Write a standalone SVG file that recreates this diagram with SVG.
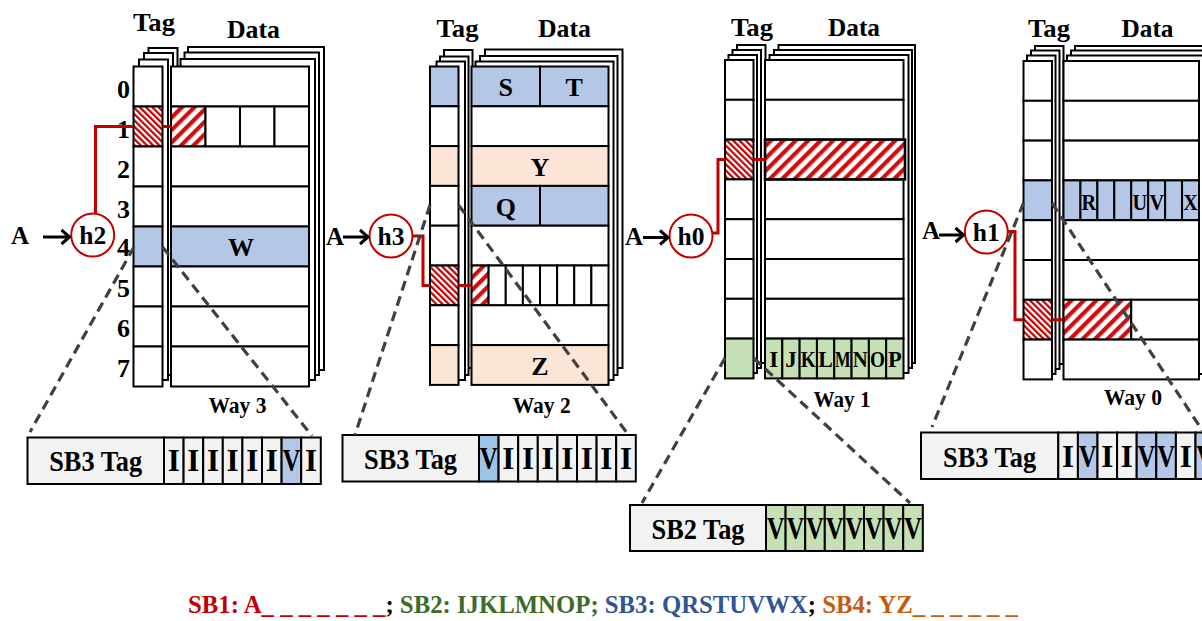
<svg xmlns="http://www.w3.org/2000/svg" width="1202" height="621" viewBox="0 0 1202 621">
<style>
text{font-family:"Liberation Serif","Times New Roman",serif;font-weight:bold;fill:#000}
.hd{font-size:26px;text-anchor:middle}
.rn{font-size:26px;text-anchor:middle}
.cl{font-size:26px;text-anchor:middle}
.cs{font-size:23px;text-anchor:middle}
.wy{font-size:24px;text-anchor:middle}
.bx{font-size:29px;text-anchor:middle}
.bt{font-size:31px;text-anchor:middle}
.hs{font-size:25px;text-anchor:middle}
.lay rect,.c{fill:#fff;stroke:#000;stroke-width:2}
.b{fill:#b4c7e7;stroke:#000;stroke-width:2}
.b2{fill:#9dc3e6;stroke:#000;stroke-width:2}
.p{fill:#fbe5d6;stroke:#000;stroke-width:2}
.g{fill:#c5e0b4;stroke:#000;stroke-width:2}
.gr{fill:#f2f2f2;stroke:#000;stroke-width:2}
.ht{fill:url(#hT);stroke:#000;stroke-width:2}
.hdd{fill:url(#hD);stroke:#000;stroke-width:2}
.red{fill:none;stroke:#c00000;stroke-width:3}
.dash{fill:none;stroke:#404040;stroke-width:3.2;stroke-dasharray:10 6}
.arr{fill:none;stroke:#000;stroke-width:3;marker-end:url(#ah)}
.hc{fill:#fff;stroke:#c00000;stroke-width:2}
</style>
<defs>
<pattern id="hT" width="4.4" height="4.4" patternUnits="userSpaceOnUse" patternTransform="rotate(-45)"><rect width="4.4" height="4.4" fill="#fff"/><rect width="2.2" height="4.4" fill="#c00000"/></pattern>
<pattern id="hD" width="8.8" height="8.8" patternUnits="userSpaceOnUse" patternTransform="rotate(45)"><rect width="8.8" height="8.8" fill="#fff"/><rect width="4.2" height="8.8" fill="#d01010"/></pattern>
<marker id="ah" markerWidth="12" markerHeight="18" refX="10" refY="9" orient="auto" markerUnits="userSpaceOnUse"><path d="M2,2 L10,9 L2,16" fill="none" stroke="#000" stroke-width="3"/></marker>
</defs>

<g id="way3">
<g class="lay">
<rect x="148.5" y="48" width="29" height="322"/><rect x="144" y="53" width="29" height="322"/><rect x="139" y="59.5" width="29" height="320.5"/>
<rect x="188" y="47" width="136" height="323"/><rect x="184.5" y="52.5" width="134.5" height="322.5"/><rect x="180.5" y="59" width="134.5" height="321"/>
</g>
<rect class="c" x="133.5" y="66.5" width="29" height="40"/>
<rect class="ht" x="133.5" y="106.5" width="29" height="40"/>
<rect class="c" x="133.5" y="146.5" width="29" height="40"/>
<rect class="c" x="133.5" y="186.5" width="29" height="40"/>
<rect class="b" x="133.5" y="226.5" width="29" height="40"/>
<rect class="c" x="133.5" y="266.5" width="29" height="40"/>
<rect class="c" x="133.5" y="306.5" width="29" height="40"/>
<rect class="c" x="133.5" y="346.5" width="29" height="40"/>
<rect class="c" x="171" y="66.5" width="138" height="40"/>
<rect class="hdd" x="171" y="106.5" width="34.5" height="40"/>
<rect class="c" x="205.5" y="106.5" width="34.5" height="40"/>
<rect class="c" x="240" y="106.5" width="34.5" height="40"/>
<rect class="c" x="274.5" y="106.5" width="34.5" height="40"/>
<rect class="c" x="171" y="146.5" width="138" height="40"/>
<rect class="c" x="171" y="186.5" width="138" height="40"/>
<rect class="b" x="171" y="226.5" width="138" height="40"/>
<rect class="c" x="171" y="266.5" width="138" height="40"/>
<rect class="c" x="171" y="306.5" width="138" height="40"/>
<rect class="c" x="171" y="346.5" width="138" height="40"/>
<text class="cl" x="241" y="256">W</text>
<text class="rn" x="123.5" y="98">0</text><text class="rn" x="123.5" y="138">1</text><text class="rn" x="123.5" y="178">2</text><text class="rn" x="123.5" y="218">3</text><text class="rn" x="123.5" y="256">4</text><text class="rn" x="123.5" y="297">5</text><text class="rn" x="123.5" y="337">6</text><text class="rn" x="123.5" y="377">7</text>
<text class="hd" x="154" y="31" textLength="42" lengthAdjust="spacingAndGlyphs">Tag</text>
<text class="hd" x="253.5" y="37.5" textLength="53" lengthAdjust="spacingAndGlyphs">Data</text>
<text class="wy" x="237.5" y="413" textLength="58" lengthAdjust="spacingAndGlyphs">Way 3</text>
</g>

<g id="way2">
<g class="lay">
<rect x="444" y="50" width="28.5" height="318"/><rect x="440" y="56.5" width="28.5" height="318.5"/><rect x="436.5" y="61.5" width="28.5" height="318.5"/>
<rect x="485" y="49.5" width="137.5" height="318.5"/><rect x="480" y="56" width="137.5" height="319"/><rect x="475.5" y="61.5" width="138" height="318.5"/>
</g>
<rect class="b" x="430" y="66.5" width="28.5" height="39.8"/>
<rect class="c" x="430" y="106.3" width="28.5" height="39.8"/>
<rect class="p" x="430" y="146.1" width="28.5" height="39.8"/>
<rect class="c" x="430" y="185.9" width="28.5" height="39.8"/>
<rect class="c" x="430" y="225.7" width="28.5" height="39.8"/>
<rect class="ht" x="430" y="265.5" width="28.5" height="39.8"/>
<rect class="c" x="430" y="305.3" width="28.5" height="39.8"/>
<rect class="p" x="430" y="345.1" width="28.5" height="39.8"/>
<rect class="b" x="471.5" y="66.5" width="68.5" height="39.8"/>
<rect class="b" x="540" y="66.5" width="68.5" height="39.8"/>
<rect class="c" x="471.5" y="106.3" width="137" height="39.8"/>
<rect class="p" x="471.5" y="146.1" width="137" height="39.8"/>
<rect class="b" x="471.5" y="185.9" width="68.5" height="39.8"/>
<rect class="b" x="540" y="185.9" width="68.5" height="39.8"/>
<rect class="c" x="471.5" y="225.7" width="137" height="39.8"/>
<rect class="hdd" x="471.5" y="265.5" width="17.125" height="39.8"/>
<rect class="c" x="488.625" y="265.5" width="17.125" height="39.8"/>
<rect class="c" x="505.75" y="265.5" width="17.125" height="39.8"/>
<rect class="c" x="522.875" y="265.5" width="17.125" height="39.8"/>
<rect class="c" x="540" y="265.5" width="17.125" height="39.8"/>
<rect class="c" x="557.125" y="265.5" width="17.125" height="39.8"/>
<rect class="c" x="574.25" y="265.5" width="17.125" height="39.8"/>
<rect class="c" x="591.375" y="265.5" width="17.125" height="39.8"/>
<rect class="c" x="471.5" y="305.3" width="137" height="39.8"/>
<rect class="p" x="471.5" y="345.1" width="137" height="39.8"/>
<text class="cl" x="505.75" y="96">S</text>
<text class="cl" x="574.25" y="96">T</text>
<text class="cl" x="540" y="175.5">Y</text>
<text class="cl" x="505.75" y="215.5">Q</text>
<text class="cl" x="540" y="374.5">Z</text>
<text class="hd" x="457.5" y="37" textLength="42" lengthAdjust="spacingAndGlyphs">Tag</text>
<text class="hd" x="564.5" y="37" textLength="53" lengthAdjust="spacingAndGlyphs">Data</text>
<text class="wy" x="541.7" y="413" textLength="58" lengthAdjust="spacingAndGlyphs">Way 2</text>
</g>

<g id="way1">
<g class="lay">
<rect x="737" y="45" width="28.5" height="318"/><rect x="732.5" y="50" width="28.5" height="318"/><rect x="728.5" y="55" width="28.5" height="318"/>
<rect x="778.5" y="45" width="136.5" height="318"/><rect x="774" y="50" width="138" height="318"/><rect x="769.5" y="55" width="139" height="318"/>
</g>
<rect class="c" x="725" y="60" width="28.5" height="39.8"/>
<rect class="c" x="725" y="99.8" width="28.5" height="39.8"/>
<rect class="ht" x="725" y="139.6" width="28.5" height="39.8"/>
<rect class="c" x="725" y="179.4" width="28.5" height="39.8"/>
<rect class="c" x="725" y="219.2" width="28.5" height="39.8"/>
<rect class="c" x="725" y="259" width="28.5" height="39.8"/>
<rect class="c" x="725" y="298.8" width="28.5" height="39.8"/>
<rect class="g" x="725" y="338.6" width="28.5" height="39.8"/>
<rect class="c" x="765" y="60" width="138.5" height="39.8"/>
<rect class="c" x="765" y="99.8" width="138.5" height="39.8"/>
<rect class="c" x="765" y="179.4" width="138.5" height="39.8"/>
<rect class="c" x="765" y="219.2" width="138.5" height="39.8"/>
<rect class="c" x="765" y="259" width="138.5" height="39.8"/>
<rect class="c" x="765" y="298.8" width="138.5" height="39.8"/>
<rect class="hdd" x="765" y="139.6" width="140" height="39.8" style="stroke-width:2.6"/>
<rect class="g" x="765" y="338.6" width="17.31" height="39.8"/>
<rect class="g" x="782.31" y="338.6" width="17.31" height="39.8"/>
<rect class="g" x="799.62" y="338.6" width="17.31" height="39.8"/>
<rect class="g" x="816.94" y="338.6" width="17.31" height="39.8"/>
<rect class="g" x="834.25" y="338.6" width="17.31" height="39.8"/>
<rect class="g" x="851.56" y="338.6" width="17.31" height="39.8"/>
<rect class="g" x="868.87" y="338.6" width="17.31" height="39.8"/>
<rect class="g" x="886.19" y="338.6" width="17.31" height="39.8"/>
<text class="cs" x="773.7" y="367">I</text>
<text class="cs" x="791" y="367">J</text>
<text class="cs" transform="matrix(0.84 0 0 1 808.3 367)">K</text>
<text class="cs" transform="matrix(0.95 0 0 1 825.6 367)">L</text>
<text class="cs" transform="matrix(0.72 0 0 1 842.9 367)">M</text>
<text class="cs" transform="matrix(0.9 0 0 1 860.2 367)">N</text>
<text class="cs" transform="matrix(0.84 0 0 1 877.5 367)">O</text>
<text class="cs" transform="matrix(0.98 0 0 1 894.8 367)">P</text>
<text class="hd" x="752" y="36" textLength="42" lengthAdjust="spacingAndGlyphs">Tag</text>
<text class="hd" x="854" y="36" textLength="52" lengthAdjust="spacingAndGlyphs">Data</text>
<text class="wy" x="842" y="406.5" textLength="57" lengthAdjust="spacingAndGlyphs">Way 1</text>
</g>

<g id="way0">
<g class="lay">
<rect x="1035" y="46" width="28.5" height="318"/><rect x="1031" y="50.5" width="28.5" height="318.5"/><rect x="1027" y="55.5" width="28.5" height="318.5"/>
<rect x="1075" y="46" width="145" height="318"/><rect x="1071" y="50.5" width="145" height="318.5"/><rect x="1067" y="55.5" width="145" height="318.5"/>
</g>
<rect class="c" x="1023.5" y="61" width="28.5" height="39.8"/>
<rect class="c" x="1023.5" y="100.8" width="28.5" height="39.8"/>
<rect class="c" x="1023.5" y="140.6" width="28.5" height="39.8"/>
<rect class="b" x="1023.5" y="180.4" width="28.5" height="39.8"/>
<rect class="c" x="1023.5" y="220.2" width="28.5" height="39.8"/>
<rect class="c" x="1023.5" y="260" width="28.5" height="39.8"/>
<rect class="ht" x="1023.5" y="299.8" width="28.5" height="39.8"/>
<rect class="c" x="1023.5" y="339.6" width="28.5" height="39.8"/>
<rect class="c" x="1063.5" y="61" width="135.5" height="39.8"/>
<rect class="c" x="1063.5" y="100.8" width="135.5" height="39.8"/>
<rect class="c" x="1063.5" y="140.6" width="135.5" height="39.8"/>
<rect class="b" x="1063.5" y="180.4" width="16.94" height="39.8"/>
<rect class="b" x="1080.44" y="180.4" width="16.94" height="39.8"/>
<rect class="b" x="1097.38" y="180.4" width="16.94" height="39.8"/>
<rect class="b" x="1114.31" y="180.4" width="16.94" height="39.8"/>
<rect class="b" x="1131.25" y="180.4" width="16.94" height="39.8"/>
<rect class="b" x="1148.19" y="180.4" width="16.94" height="39.8"/>
<rect class="b" x="1165.13" y="180.4" width="16.94" height="39.8"/>
<rect class="b" x="1182.06" y="180.4" width="16.94" height="39.8"/>
<rect class="c" x="1063.5" y="220.2" width="135.5" height="39.8"/>
<rect class="c" x="1063.5" y="260" width="135.5" height="39.8"/>
<rect class="hdd" x="1063.5" y="299.8" width="67.75" height="39.8"/>
<rect class="c" x="1131.25" y="299.8" width="67.75" height="39.8"/>
<rect class="c" x="1063.5" y="339.6" width="135.5" height="39.8"/>
<text class="cs" transform="matrix(0.88 0 0 1 1088.9 209.5)">R</text>
<text class="cs" transform="matrix(0.88 0 0 1 1139.7 209.5)">U</text>
<text class="cs" transform="matrix(0.88 0 0 1 1156.7 209.5)">V</text>
<text class="cs" transform="matrix(0.88 0 0 1 1190.5 209.5)">X</text>
<text class="hd" x="1049" y="37" textLength="42" lengthAdjust="spacingAndGlyphs">Tag</text>
<text class="hd" x="1147.5" y="37" textLength="52" lengthAdjust="spacingAndGlyphs">Data</text>
<text class="wy" x="1133" y="405" textLength="58" lengthAdjust="spacingAndGlyphs">Way 0</text>
</g>

<g id="hash">
<circle class="hc" cx="92.7" cy="235" r="21.5"/><text class="hs" x="92.7" y="244" textLength="27" lengthAdjust="spacingAndGlyphs">h2</text>
<circle class="hc" cx="391" cy="236" r="21.5"/><text class="hs" x="391" y="245" textLength="27" lengthAdjust="spacingAndGlyphs">h3</text>
<circle class="hc" cx="691" cy="236" r="21.5"/><text class="hs" x="691" y="245" textLength="27" lengthAdjust="spacingAndGlyphs">h0</text>
<circle class="hc" cx="986.3" cy="232" r="21.5"/><text class="hs" x="986.3" y="241" textLength="27" lengthAdjust="spacingAndGlyphs">h1</text>
<text class="hs" x="20" y="244">A</text>
<text class="hs" x="335" y="245">A</text>
<text class="hs" x="634" y="245">A</text>
<text class="hs" x="931" y="239">A</text>
</g>

<g id="sb-box-3">
<rect class="gr" x="27.5" y="437.5" width="136.5" height="46.5"/>
<rect class="gr" x="164" y="437.5" width="19.6" height="46.5"/><rect class="gr" x="183.6" y="437.5" width="19.6" height="46.5"/><rect class="gr" x="203.2" y="437.5" width="19.6" height="46.5"/><rect class="gr" x="222.8" y="437.5" width="19.6" height="46.5"/><rect class="gr" x="242.4" y="437.5" width="19.6" height="46.5"/><rect class="gr" x="262" y="437.5" width="19.6" height="46.5"/><rect class="b" x="281.6" y="437.5" width="19.6" height="46.5"/><rect class="gr" x="301.2" y="437.5" width="19.6" height="46.5"/>
<text class="bx" x="95.7" y="471" textLength="93" lengthAdjust="spacingAndGlyphs">SB3 Tag</text>
<text class="bt" x="173.8" y="471">I</text><text class="bt" x="193.4" y="471">I</text><text class="bt" x="213" y="471">I</text><text class="bt" x="232.6" y="471">I</text><text class="bt" x="252.2" y="471">I</text><text class="bt" x="271.8" y="471">I</text><text class="bt" transform="matrix(0.8 0 0 1 291.4 471)">V</text><text class="bt" x="311" y="471">I</text>
</g>

<g id="sb-box-2">
<rect class="gr" x="342.5" y="435" width="136.5" height="46.5"/>
<rect class="b2" x="479" y="435" width="19.6" height="46.5"/><rect class="gr" x="498.6" y="435" width="19.6" height="46.5"/><rect class="gr" x="518.2" y="435" width="19.6" height="46.5"/><rect class="gr" x="537.8" y="435" width="19.6" height="46.5"/><rect class="gr" x="557.4" y="435" width="19.6" height="46.5"/><rect class="gr" x="577" y="435" width="19.6" height="46.5"/><rect class="gr" x="596.6" y="435" width="19.6" height="46.5"/><rect class="gr" x="616.2" y="435" width="19.6" height="46.5"/>
<text class="bx" x="410.5" y="468.5" textLength="93" lengthAdjust="spacingAndGlyphs">SB3 Tag</text>
<text class="bt" transform="matrix(0.8 0 0 1 488.8 468.5)">V</text><text class="bt" x="508.4" y="468.5">I</text><text class="bt" x="528" y="468.5">I</text><text class="bt" x="547.6" y="468.5">I</text><text class="bt" x="567.2" y="468.5">I</text><text class="bt" x="586.8" y="468.5">I</text><text class="bt" x="606.4" y="468.5">I</text><text class="bt" x="626" y="468.5">I</text>
</g>

<g id="sb-box-1">
<rect class="gr" x="630" y="505" width="136" height="46"/>
<rect class="g" x="766" y="505" width="19.6" height="46"/><rect class="g" x="785.6" y="505" width="19.6" height="46"/><rect class="g" x="805.2" y="505" width="19.6" height="46"/><rect class="g" x="824.8" y="505" width="19.6" height="46"/><rect class="g" x="844.4" y="505" width="19.6" height="46"/><rect class="g" x="864" y="505" width="19.6" height="46"/><rect class="g" x="883.6" y="505" width="19.6" height="46"/><rect class="g" x="903.2" y="505" width="19.6" height="46"/>
<text class="bx" x="698" y="538.5" textLength="93" lengthAdjust="spacingAndGlyphs">SB2 Tag</text>
<text class="bt" transform="matrix(0.8 0 0 1 775.8 538.5)">V</text><text class="bt" transform="matrix(0.8 0 0 1 795.4 538.5)">V</text><text class="bt" transform="matrix(0.8 0 0 1 815 538.5)">V</text><text class="bt" transform="matrix(0.8 0 0 1 834.6 538.5)">V</text><text class="bt" transform="matrix(0.8 0 0 1 854.2 538.5)">V</text><text class="bt" transform="matrix(0.8 0 0 1 873.8 538.5)">V</text><text class="bt" transform="matrix(0.8 0 0 1 893.4 538.5)">V</text><text class="bt" transform="matrix(0.8 0 0 1 913 538.5)">V</text>
</g>

<g id="sb-box-0">
<rect class="gr" x="921" y="432.5" width="137.3" height="46.5"/>
<rect class="gr" x="1058.3" y="432.5" width="19.6" height="46.5"/><rect class="b" x="1077.9" y="432.5" width="19.6" height="46.5"/><rect class="gr" x="1097.5" y="432.5" width="19.6" height="46.5"/><rect class="gr" x="1117.1" y="432.5" width="19.6" height="46.5"/><rect class="b" x="1136.7" y="432.5" width="19.6" height="46.5"/><rect class="b" x="1156.3" y="432.5" width="19.6" height="46.5"/><rect class="gr" x="1175.9" y="432.5" width="19.6" height="46.5"/><rect class="b" x="1195.5" y="432.5" width="19.6" height="46.5"/>
<text class="bx" x="989.6" y="467" textLength="93" lengthAdjust="spacingAndGlyphs">SB3 Tag</text>
<text class="bt" x="1068.1" y="467">I</text><text class="bt" transform="matrix(0.8 0 0 1 1087.7 467)">V</text><text class="bt" x="1107.3" y="467">I</text><text class="bt" x="1126.9" y="467">I</text><text class="bt" transform="matrix(0.8 0 0 1 1146.5 467)">V</text><text class="bt" transform="matrix(0.8 0 0 1 1166.1 467)">V</text><text class="bt" x="1185.7" y="467">I</text><text class="bt" transform="matrix(0.8 0 0 1 1205.3 467)">V</text>
</g>

<g id="connectors">
<path class="red" d="M95.5,213.5 V126.5 H133.5 M162.5,126.5 H171"/>
<path class="red" d="M412.5,236 H423 V285.4 H430 M458.5,285.4 H471.5"/>
<path class="red" d="M712.5,233 H718 V159.5 H725 M753.5,159.5 H765"/>
<path class="red" d="M1008,231.5 H1015 V319.7 H1023.5 M1052,319.7 H1063.5"/>
<path class="arr" d="M43,237 H69.5"/>
<path class="arr" d="M343,237 H368"/>
<path class="arr" d="M643,237.5 H668"/>
<path class="arr" d="M939,235 H963.5"/>
<path class="dash" d="M134,247 L30,432 M162.5,247 L312,436"/>
<path class="dash" d="M430,205 L355,435 M458.5,205 L627,433"/>
<path class="dash" d="M725,358 L642,503 M753.5,358 L910,503"/>
<path class="dash" d="M1023.5,203 L932,427 M1052,203 L1212,445"/>
</g>

<g id="legend">
<text x="188" y="613" style="font-size:25px" textLength="830" lengthAdjust="spacingAndGlyphs"><tspan fill="#c00000">SB1: A_ _ _ _ _ _ _</tspan>; <tspan fill="#3d6b2a">SB2: IJKLMNOP;</tspan> <tspan fill="#2f5597">SB3: QRSTUVWX</tspan>; <tspan fill="#c55a11">SB4: YZ_ _ _ _ _ _</tspan></text>
</g>
</svg>
